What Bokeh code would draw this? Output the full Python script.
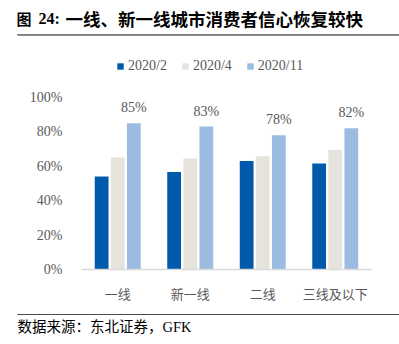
from bokeh.plotting import figure
from bokeh.layouts import column
from bokeh.models import (FactorRange, Legend, LegendItem, Label, LabelSet,
                          ColumnDataSource, NumeralTickFormatter, Range1d, BoxAnnotation)
from bokeh.transform import dodge
from bokeh.core.properties import value
from bokeh.embed import file_html
from bokeh.resources import INLINE

categories = ["一线", "新一线", "二线", "三线及以下"]
series_names = ["2020/2", "2020/4", "2020/11"]
v_2020_2 = [0.54, 0.566, 0.63, 0.616]
v_2020_4 = [0.65, 0.644, 0.657, 0.694]
v_2020_11 = [0.85, 0.83, 0.78, 0.82]
labels_2020_11 = ["85%", "83%", "78%", "82%"]
y_ticks = [0, 0.2, 0.4, 0.6, 0.8, 1.0]

colors = ["#0059AB", "#E6E3DD", "#9BBCE0"]
SERIF = "'Liberation Serif', 'Noto Sans CJK SC'"
CJK = "'Noto Sans CJK SC', 'Liberation Serif'"
GRAY = "#595959"

W, H = 399, 344
HEAD_H, RULE2_H, FOOT_H = 40, 10, 29
CH_H = H - HEAD_H - RULE2_H - FOOT_H


def blank(h):
    f = figure(width=W, height=h, x_range=Range1d(0, W), y_range=Range1d(h, 0),
               output_backend="svg", toolbar_location=None,
               x_axis_location=None, y_axis_location=None, min_border=0,
               frame_align=False)
    f.outline_line_color = None
    f.grid.visible = False
    return f


def add_rule(f, y0, y1, color):
    f.quad(left=[17], right=[W], top=[y0], bottom=[y1], fill_color=color,
           line_color=None)
    f.add_layout(BoxAnnotation(left=17, right=W, top=y0, bottom=y1,
                               fill_color=color, fill_alpha=1, line_color=None))
    f.segment(x0=[17], x1=[W], y0=[(y0 + y1) / 2], y1=[(y0 + y1) / 2],
              line_color=color, line_width=1.5)


# header
head = blank(HEAD_H)
for tx, txt, fnt, fs in [(16, "图", CJK, "15px"), (38, "24:", SERIF, "16px"),
                         (65, "一线、新一线城市消费者信心恢复较快", CJK, "17.5px")]:
    head.add_layout(Label(x=tx, y=18, text=txt, text_font=fnt, text_font_size=fs,
                          text_font_style="bold", text_color="black",
                          text_baseline="middle"))
add_rule(head, 33.5, 35, "#7F7F7F")

# chart
src = ColumnDataSource(dict(cat=categories, a=v_2020_2, b=v_2020_4, c=v_2020_11,
                            lab=labels_2020_11))
frame_top, frame_bot, y100 = 55 - HEAD_H, 270 - HEAD_H, 97 - HEAD_H
y_end = (frame_bot - frame_top) / (frame_bot - y100)
p = figure(width=W, height=CH_H, x_range=FactorRange(*categories),
           y_range=Range1d(0, y_end),
           output_backend="svg", toolbar_location=None, frame_align=False,
           min_border_left=81, min_border_right=28, min_border_top=frame_top,
           min_border_bottom=CH_H - frame_bot)
p.outline_line_color = None
p.grid.visible = False

bw = 0.19
off = 0.222
r1 = p.vbar(x=dodge("cat", -off, range=p.x_range), top="a", width=bw, source=src,
            color=colors[0], line_color=None)
r2 = p.vbar(x=dodge("cat", 0, range=p.x_range), top="b", width=bw, source=src,
            color=colors[1], line_color=None)
r3 = p.vbar(x=dodge("cat", off, range=p.x_range), top="c", width=bw, source=src,
            color=colors[2], line_color=None)

ls = LabelSet(x=dodge("cat", off, range=p.x_range), y="c", text="lab", source=src,
              text_align="center", text_baseline="bottom", y_offset=8,
              text_font=value(SERIF), text_font_size="14px", text_color=GRAY)
p.add_layout(ls)

p.yaxis.ticker = y_ticks
p.yaxis.formatter = NumeralTickFormatter(format="0%")
p.yaxis.axis_line_color = None
p.yaxis.major_tick_line_color = None
p.yaxis.minor_tick_line_color = None
p.yaxis.major_label_text_font = SERIF
p.yaxis.major_label_text_font_size = "14px"
p.yaxis.major_label_text_color = GRAY
p.yaxis.major_label_standoff = 13

p.xaxis.axis_line_color = "#D9D9D9"
p.xaxis.axis_line_width = 1.5
p.xaxis.major_tick_line_color = None
p.xaxis.minor_tick_line_color = None
p.xaxis.major_label_text_font = CJK
p.xaxis.major_label_text_font_size = "13px"
p.xaxis.major_label_text_color = GRAY
p.xaxis.major_label_standoff = 8

legend = Legend(items=[LegendItem(label=series_names[0], renderers=[r1]),
                       LegendItem(label=series_names[1], renderers=[r2]),
                       LegendItem(label=series_names[2], renderers=[r3])],
                orientation="horizontal", location=(35, 195),
                padding=0, margin=0, spacing=14, glyph_width=8, glyph_height=8,
                label_standoff=4, label_text_font=SERIF, label_text_font_size="14px",
                label_text_color=GRAY, background_fill_alpha=0, border_line_color=None)
p.add_layout(legend, "center")

# bottom rule strip
rule2 = blank(RULE2_H)
add_rule(rule2, 7, 8.5, "#333333")

# footer
foot = blank(FOOT_H)
foot.add_layout(Label(x=17, y=11, text="数据来源：东北证券，GFK",
                      text_font=SERIF, text_font_size="14.5px",
                      text_color="black", text_baseline="middle"))

layout = column(head, p, rule2, foot, spacing=0)
open("out.html", "w").write(file_html(layout, INLINE))
